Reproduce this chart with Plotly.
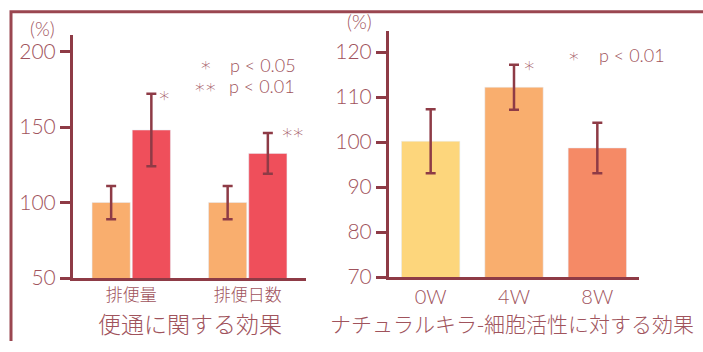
import plotly.graph_objects as go

W, H = 703, 352

# Left panel data
cats_left = ["排便量", "排便日数"]
before_vals = [100, 100]
before_err = [11, 11]
after_vals = [148, 132.5]
after_err = [24, 13.5]

# Right panel data
cats_right = ["0W", "4W", "8W"]
nk_vals = [100.2, 112.2, 98.7]
nk_err = [7.1, 5.0, 5.6]
nk_colors = ["#FDD67C", "#F9AE6E", "#F58A66"]

AXC = "#8E3B46"
TXC = "#A0535C"
FONT = "Lato, Noto Sans CJK JP, sans-serif"
CJK = "Noto Sans CJK JP"
STAR = "DejaVu Sans"
S = "\u2217"

def px(x):
    return x / W

def py(y):
    return 1 - y / H

fig = go.Figure()

fig.add_trace(go.Bar(x=cats_left, y=before_vals, marker_color="#F9AE6E",
                     error_y=dict(type="data", array=before_err, color=AXC, thickness=2.5, width=5),
                     xaxis="x", yaxis="y", showlegend=False))
fig.add_trace(go.Bar(x=cats_left, y=after_vals, marker_color="#EF4F5B",
                     error_y=dict(type="data", array=after_err, color=AXC, thickness=2.5, width=5),
                     xaxis="x", yaxis="y", showlegend=False))
fig.add_trace(go.Bar(x=cats_right, y=nk_vals, marker_color=nk_colors, width=0.7,
                     error_y=dict(type="data", array=nk_err, color=AXC, thickness=2.5, width=5),
                     xaxis="x2", yaxis="y2", showlegend=False))

axis_common = dict(showline=True, linecolor=AXC, linewidth=3, showgrid=False, zeroline=False,
                   ticks="outside", tickcolor=AXC, tickwidth=3, ticklen=10,
                   tickfont=dict(family=FONT, size=21, color=TXC, weight=300))

fig.update_layout(
    width=W, height=H, margin=dict(l=0, r=0, t=0, b=0),
    paper_bgcolor="white", plot_bgcolor="white",
    barmode="group", bargap=0.31, bargroupgap=0.05,
    xaxis=dict(domain=[px(73), px(306)], anchor="y", showline=True, linecolor=AXC, linewidth=3,
               showgrid=False, ticks="", tickfont=dict(family=CJK, size=17, color=TXC, weight=300)),
    yaxis=dict(domain=[py(287), py(36)], anchor="x", range=[50, 211],
               tickvals=[50, 100, 150, 200], **axis_common),
    xaxis2=dict(domain=[px(389), px(639)], anchor="y2", showline=True, linecolor=AXC, linewidth=3,
                showgrid=False, ticks="", tickfont=dict(family=FONT, size=20, color=TXC, weight=300)),
    yaxis2=dict(domain=[py(286), py(32)], anchor="x2", range=[70, 124.7],
                tickvals=[70, 80, 90, 100, 110, 120], **axis_common),
)

# Frame
fig.add_shape(type="path", xref="paper", yref="paper",
              path=f"M {px(11)},0 L {px(11)},{py(12)} L 1,{py(12)}",
              line=dict(color="#9A4650", width=3))

def ann(x, y, text, size, xanchor="center", family=FONT):
    fig.add_annotation(x=x, y=y, xref="paper", yref="paper", text=text, showarrow=False,
                       xanchor=xanchor, yanchor="middle",
                       font=dict(family=family, size=size, color=TXC, weight=300))

ann(px(42), py(29), "(%)", 19)
ann(px(359), py(22), "(%)", 19)
# legend notes
ann(px(206), py(66), S, 19, family=STAR)
ann(px(228), py(67), "p &lt; 0.05", 18, xanchor="left")
ann(px(200), py(89), S, 19, family=STAR)
ann(px(211), py(89), S, 19, family=STAR)
ann(px(227), py(89), "p &lt; 0.01", 18, xanchor="left")
ann(px(574), py(57), S, 19, family=STAR)
ann(px(597), py(57), "p &lt; 0.01", 18, xanchor="left")
# significance marks
ann(px(164), py(98), S, 20, family=STAR)
ann(px(287), py(136), S, 20, family=STAR)
ann(px(298), py(136), S, 20, family=STAR)
ann(px(529), py(67), S, 20, family=STAR)
# titles
ann(px(190), py(333), "便通に関する効果", 23, family=CJK)
ann(px(512), py(333), "ナチュラルキラ-細胞活性に対する効果", 21, family=CJK)

fig.write_html("out.html")
